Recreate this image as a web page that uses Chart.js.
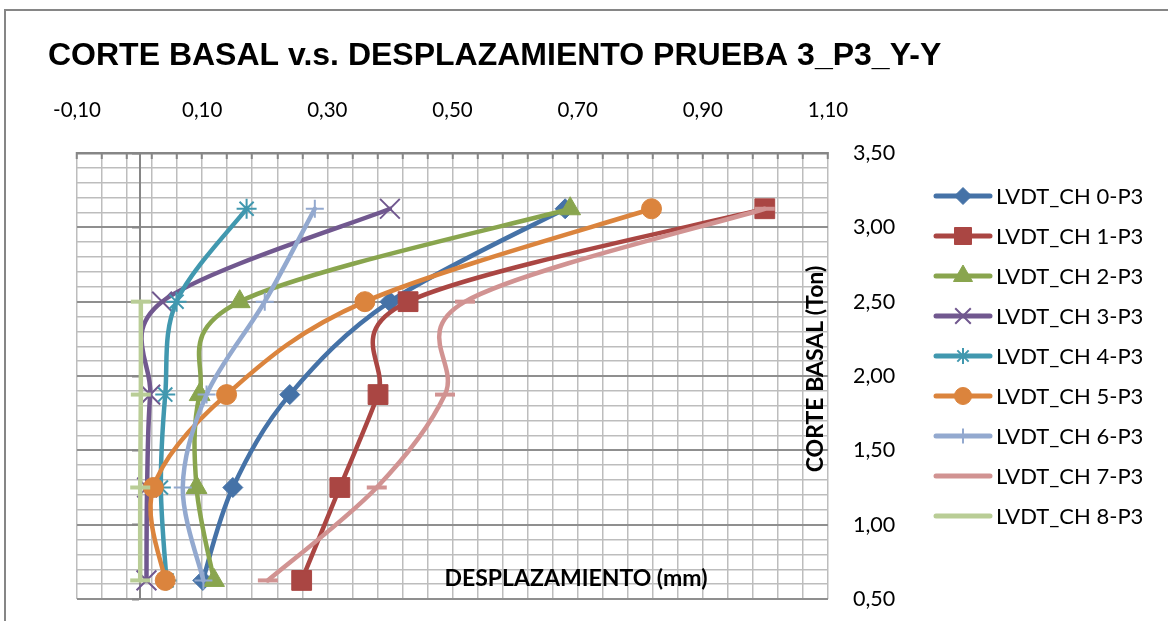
<!DOCTYPE html>
<html>
<head>
<meta charset="utf-8">
<script src="https://cdn.jsdelivr.net/npm/chart.js@4/dist/chart.umd.min.js"></script>
<style>
  html, body { margin: 0; padding: 0; background: #ffffff; }
  #wrap { width: 1168px; height: 621px; position: relative; }
  canvas { display: block; }
</style>
</head>
<body>
<div id="wrap"><canvas id="chart" width="1168" height="621"></canvas></div>
<script>
// Load steps (Ton) shared by every LVDT channel
const corteBasal = [0.625, 1.25, 1.875, 2.5, 3.125];

// Displacement (mm) read by each LVDT channel at each load step
const ch0 = [0.101, 0.149, 0.240, 0.400, 0.680];
const ch1 = [0.259, 0.320, 0.381, 0.429, 0.999];
const ch2 = [0.119, 0.091, 0.096, 0.160, 0.688];
const ch3 = [0.011, 0.012, 0.017, 0.036, 0.400];
const ch4 = [0.043, 0.034, 0.041, 0.059, 0.171];
const ch5 = [0.041, 0.022, 0.139, 0.360, 0.818];
const ch6 = [0.102, 0.069, 0.107, 0.200, 0.280];
const ch7 = [0.205, 0.379, 0.488, 0.520, 0.999];
const ch8 = [0.001, 0.001, 0.002, 0.002];

const seriesNames = ['LVDT_CH 0-P3', 'LVDT_CH 1-P3', 'LVDT_CH 2-P3', 'LVDT_CH 3-P3', 'LVDT_CH 4-P3',
                     'LVDT_CH 5-P3', 'LVDT_CH 6-P3', 'LVDT_CH 7-P3', 'LVDT_CH 8-P3'];
const seriesValues = [ch0, ch1, ch2, ch3, ch4, ch5, ch6, ch7, ch8];

// Axis ticks
const xMin = -0.1, xMax = 1.1, xMinorStep = 0.04;
const yMin = 0.5, yMax = 3.5, yMinorStep = 0.1, yMajorStep = 0.5;
const xTickLabels = ['-0,10', '0,10', '0,30', '0,50', '0,70', '0,90', '1,10'];
const yTickLabels = ['0,50', '1,00', '1,50', '2,00', '2,50', '3,00', '3,50'];

const titleText = 'CORTE BASAL v.s. DESPLAZAMIENTO PRUEBA 3_P3_Y-Y';
const xTitleText = 'DESPLAZAMIENTO (mm)';
const yTitleText = 'CORTE BASAL (Ton)';

// Styling
const seriesColors = ['#4572A7', '#AA4643', '#89A54E', '#71588F', '#4198AF',
                      '#DB843D', '#93A9CF', '#D19392', '#B9CD96'];
const markerStyles = [
  { style: 'rectRot',  r: 10, bw: 1, lr: 8.5 },
  { style: 'rect',     r: 14, bw: 1, lr: 12 },
  { style: 'triangle', r: 12, bw: 1, lr: 11 },
  { style: 'crossRot', r: 14, bw: 2, lr: 11 },
  { style: 'star',     r: 10, bw: 2, lr: 8 },
  { style: 'circle',   r: 10, bw: 1, lr: 8.5 },
  { style: 'cross',    r: 9,  bw: 2, lr: 7.5 },
  { style: 'line',     r: 10, bw: 4, lr: 0 },
  { style: 'line',     r: 10, bw: 4, lr: 0 }
];

const FONT = 'Lato, "Open Sans", sans-serif';
Chart.defaults.font.family = FONT;
Chart.defaults.color = '#000000';

const datasets = seriesValues.map((vals, i) => ({
  label: seriesNames[i],
  data: vals.map((x, k) => ({ x: x, y: corteBasal[k] })),
  showLine: true,
  tension: 0.35,
  borderColor: seriesColors[i],
  backgroundColor: seriesColors[i],
  borderWidth: 4.5,
  borderCapStyle: 'round',
  borderJoinStyle: 'round',
  pointStyle: markerStyles[i].style,
  pointRadius: markerStyles[i].r,
  pointHoverRadius: markerStyles[i].r,
  pointBorderWidth: markerStyles[i].bw,
  pointBorderColor: seriesColors[i],
  pointBackgroundColor: seriesColors[i],
  order: seriesValues.length - i
}));

const GRID_MINOR = '#bdbdbd';
const GRID_MAJOR = '#8f8f8f';
const AXIS_DARK = '#868686';

function makeTicks(min, step, count) {
  return Array.from({ length: count }, (_, i) => ({ value: +(min + i * step).toFixed(6) }));
}

// Uniform Catmull-Rom smoothing (spreadsheet-style smoothed lines):
// each control point sits 1/6 of the neighbour chord away from its point.
const smoothLines = {
  id: 'smoothLines',
  beforeDatasetDraw(chart, args) {
    const meta = args.meta;
    const pts = meta.data;
    for (let i = 0; i < pts.length; i++) {
      const p = pts[i];
      const prev = pts[i - 1] || p;
      const next = pts[i + 1] || p;
      const dx = (next.x - prev.x) / 6;
      const dy = (next.y - prev.y) / 6;
      p.cp1x = p.x - dx; p.cp1y = p.y - dy;
      p.cp2x = p.x + dx; p.cp2y = p.y + dy;
    }
    if (meta.dataset) {
      meta.dataset._pointsUpdated = true;
      meta.dataset._path = undefined;
    }
  }
};

const decorations = {
  id: 'decorations',
  beforeDraw(chart) {
    const ctx = chart.ctx;
    ctx.save();
    ctx.fillStyle = '#ffffff';
    ctx.fillRect(0, 0, chart.width, chart.height);
    ctx.strokeStyle = AXIS_DARK;
    ctx.lineWidth = 2;
    ctx.strokeRect(5, 10, chart.width + 20, chart.height + 20);
    ctx.restore();
  },
  afterDraw(chart) {
    const ctx = chart.ctx;
    const area = chart.chartArea;
    ctx.save();
    // Chart title
    ctx.fillStyle = '#000000';
    ctx.font = 'bold 32px "Liberation Sans", Arial, sans-serif';
    ctx.textAlign = 'left';
    ctx.textBaseline = 'middle';
    ctx.fillText(titleText, 48, 56);

    // Axis titles placed inside the plot area
    ctx.font = 'bold 23px ' + FONT;
    ctx.textAlign = 'center';
    ctx.fillText(xTitleText, area.left + 499, area.bottom - 20);
    ctx.save();
    ctx.translate(area.right - 12, area.top + 216);
    ctx.rotate(-Math.PI / 2);
    ctx.fillText(yTitleText, 0, 0);
    ctx.restore();

    // Legend: line segment with its marker, then the series name
    const lx0 = 936, lx1 = 990, ly0 = 196, lstep = 40;
    chart.data.datasets.forEach((ds, i) => {
      const y = ly0 + i * lstep;
      const color = seriesColors[i];
      ctx.strokeStyle = color;
      ctx.fillStyle = color;
      ctx.lineWidth = 5;
      ctx.lineCap = 'round';
      ctx.beginPath();
      ctx.moveTo(lx0, y);
      ctx.lineTo(lx1, y);
      ctx.stroke();
      const m = markerStyles[i];
      if (m.lr > 0) {
        ctx.lineCap = 'butt';
        ctx.lineWidth = m.bw;
        Chart.helpers.drawPoint(ctx, { pointStyle: m.style, radius: m.lr, rotation: 0, borderWidth: m.bw },
          (lx0 + lx1) / 2, y);
      }
      ctx.fillStyle = '#000000';
      ctx.font = '22px ' + FONT;
      ctx.textAlign = 'left';
      ctx.textBaseline = 'middle';
      ctx.fillText(ds.label, 996, y + 1);
    });
    ctx.restore();
  }
};

new Chart(document.getElementById('chart'), {
  type: 'scatter',
  data: { datasets: datasets },
  plugins: [smoothLines, decorations],
  options: {
    responsive: false,
    animation: false,
    devicePixelRatio: 1,
    layout: { padding: { left: 77, right: 0, top: 0, bottom: 22 } },
    plugins: {
      legend: { display: false },
      title: { display: false },
      tooltip: { enabled: false }
    },
    scales: {
      x: {
        type: 'linear',
        position: 'top',
        min: xMin,
        max: xMax,
        afterBuildTicks(scale) {
          scale.ticks = makeTicks(xMin, xMinorStep, Math.round((xMax - xMin) / xMinorStep) + 1);
        },
        afterFit(scale) {
          scale.height = 153;
          scale.paddingLeft = 0;
          scale.paddingRight = 0;
        },
        ticks: {
          autoSkip: false,
          maxRotation: 0,
          minRotation: 0,
          padding: 36,
          font: { size: 20.5 },
          callback(value, index) {
            return index % 5 === 0 ? xTickLabels[index / 5] : '';
          }
        },
        grid: {
          color: GRID_MINOR,
          lineWidth: 1.5,
          drawTicks: true,
          tickLength: -6,
          tickColor: AXIS_DARK,
          tickWidth: 2
        },
        border: { display: true, color: AXIS_DARK, width: 2.5 }
      },
      y: {
        type: 'linear',
        position: 'right',
        min: yMin,
        max: yMax,
        afterBuildTicks(scale) {
          scale.ticks = makeTicks(yMin, yMinorStep, Math.round((yMax - yMin) / yMinorStep) + 1);
        },
        afterFit(scale) {
          scale.width = 340;
          scale.paddingTop = 0;
          scale.paddingBottom = 0;
        },
        ticks: {
          autoSkip: false,
          padding: 25,
          font: { size: 21.5 },
          callback(value, index) {
            return index % 5 === 0 ? yTickLabels[index / 5] : '';
          }
        },
        grid: {
          drawTicks: false,
          color: (c) => (c.index % 5 === 0 ? GRID_MAJOR : GRID_MINOR),
          lineWidth: (c) => (c.index % 5 === 0 ? 2 : 1.5)
        },
        border: { display: false }
      },
      // Vertical axis line crossing at zero displacement
      y0: {
        type: 'linear',
        axis: 'y',
        position: { x: 0 },
        min: yMin,
        max: yMax,
        afterBuildTicks(scale) {
          scale.ticks = makeTicks(yMin, yMajorStep, Math.round((yMax - yMin) / yMajorStep) + 1);
        },
        afterFit(scale) {
          scale.paddingTop = 0;
          scale.paddingBottom = 0;
        },
        ticks: { display: false },
        grid: {
          drawOnChartArea: false,
          drawTicks: true,
          tickLength: 7,
          tickColor: AXIS_DARK,
          tickWidth: 2
        },
        border: { display: true, color: AXIS_DARK, width: 2 }
      }
    }
  }
});
</script>
</body>
</html>
